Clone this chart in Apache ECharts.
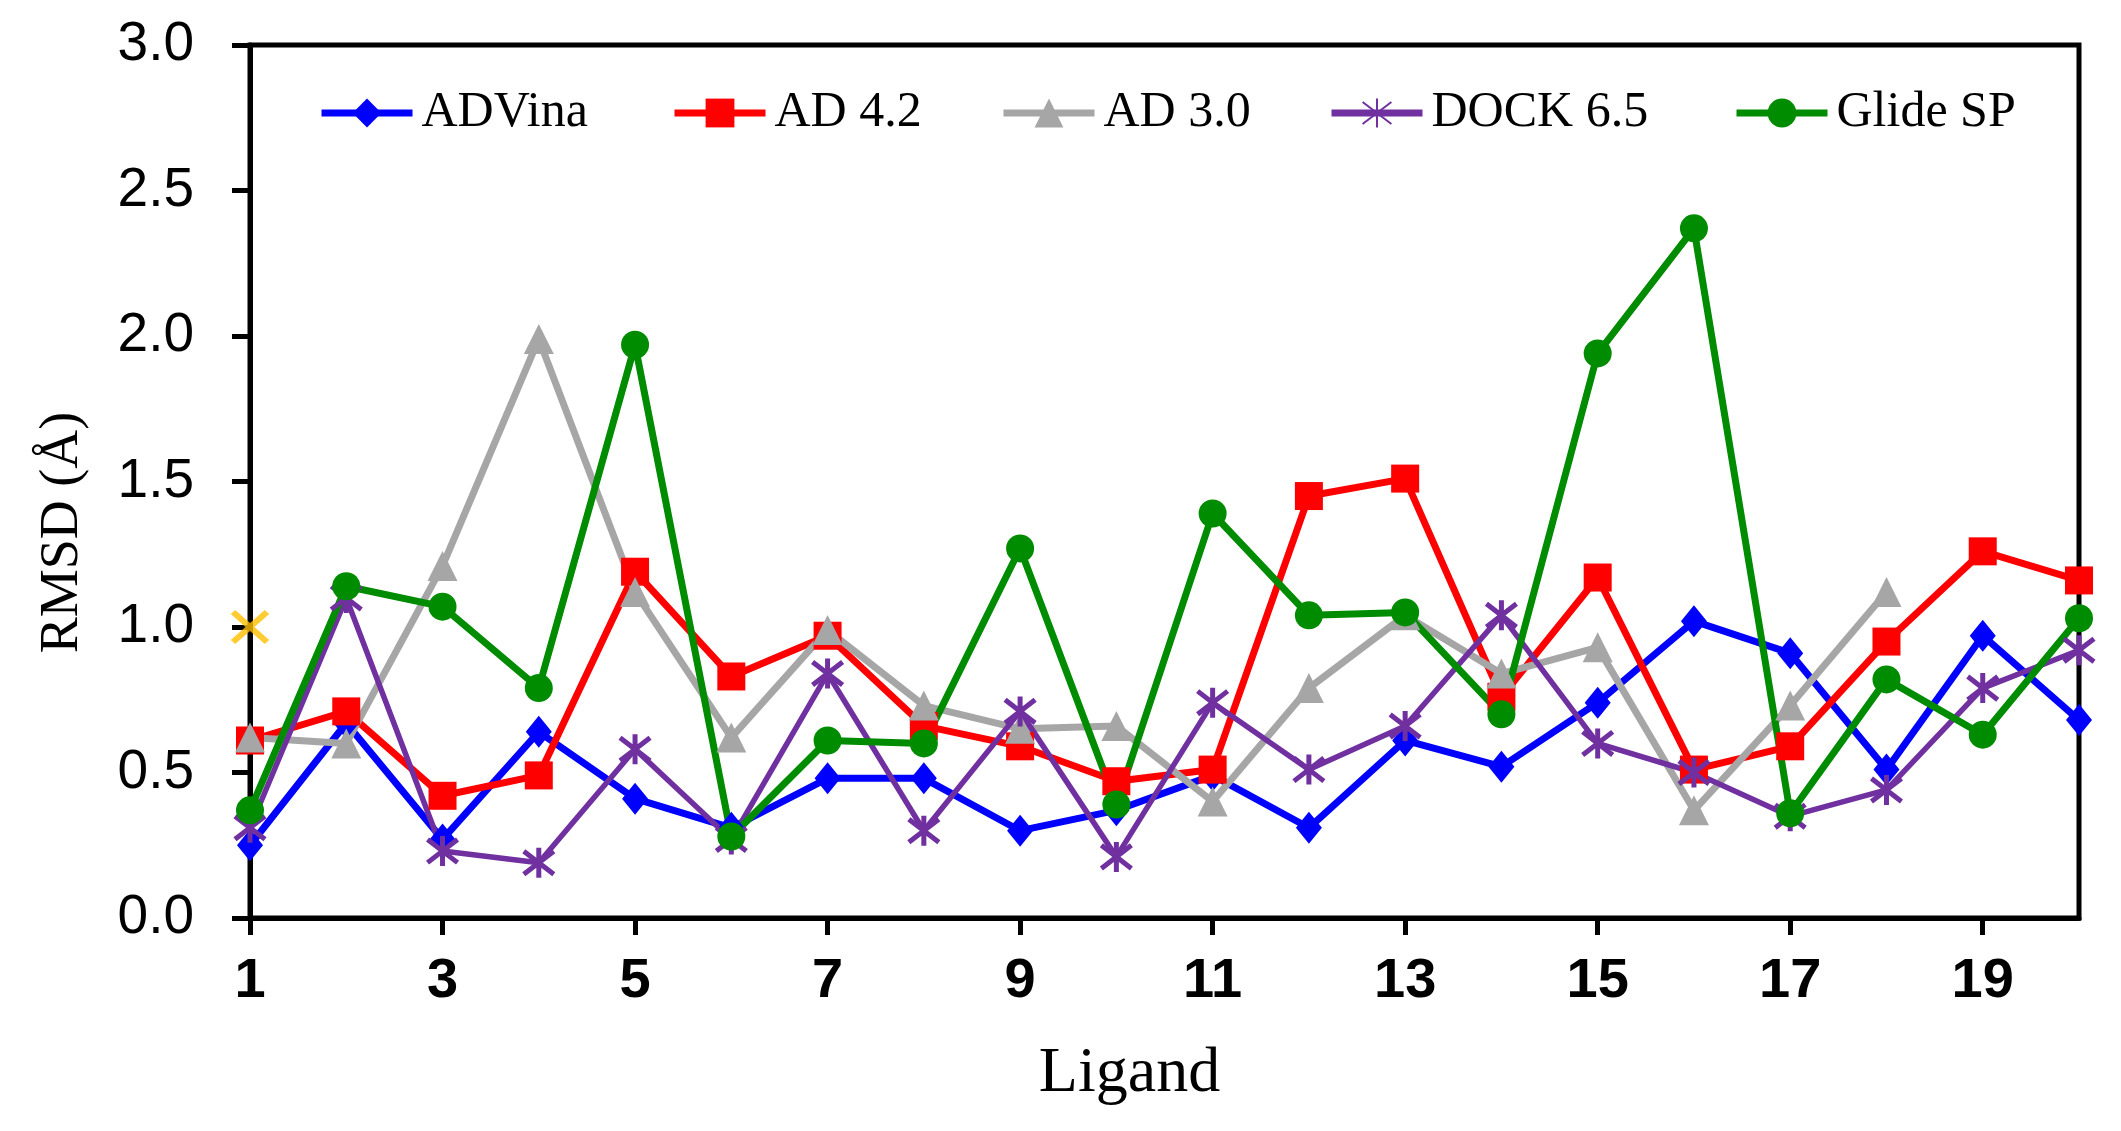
<!DOCTYPE html>
<html>
<head>
<meta charset="utf-8">
<script src="https://cdn.jsdelivr.net/npm/echarts@6/dist/echarts.min.js"></script>
<style>
html,body{margin:0;padding:0;background:#fff;}
#chart{width:2121px;height:1131px;}
</style>
</head>
<body>
<div id="chart"></div>
<script>
// ---- data ----
var ligands = ['1','2','3','4','5','6','7','8','9','10','11','12','13','14','15','16','17','18','19','20'];
var adVina  = [0.25,0.67,0.27,0.64,0.41,0.31,0.48,0.48,0.30,0.37,0.49,0.31,0.61,0.52,0.74,1.02,0.91,0.51,0.97,0.68];
var ad42    = [0.61,0.71,0.42,0.49,1.19,0.83,0.97,0.66,0.59,0.47,0.51,1.45,1.51,0.76,1.17,0.51,0.59,0.95,1.26,1.16];
var ad30    = [0.62,0.60,1.21,1.99,1.12,0.62,0.99,0.73,0.65,0.66,0.40,0.79,1.04,0.84,0.93,0.37,0.73,1.12,null,null];
var dock65  = [0.31,1.10,0.23,0.19,0.58,0.27,0.84,0.30,0.71,0.21,0.74,0.51,0.66,1.04,0.60,0.50,0.35,0.44,0.79,0.92];
var glideSP = [0.37,1.14,1.07,0.79,1.97,0.28,0.61,0.60,1.27,0.39,1.39,1.04,1.05,0.70,1.94,2.37,0.36,0.82,0.63,1.03];
var refMarkerLigand = '1';
var refMarkerValue = 1.0;
var seriesNames = ['ADVina','AD 4.2','AD 3.0','DOCK 6.5','Glide SP'];

// ---- styles ----
var SERIF = '"Liberation Serif","Times New Roman",serif';
var SANS = '"Liberation Sans",Arial,sans-serif';
var starPath = 'path://M0,0 L10,10 M10,0 L0,10 M5,-1.5 L5,11.5';
var crossPath = 'path://M0,0 L10,10 M10,0 L0,10';

function lineSeries(name, data, color, symbol, size, lw, extraItem) {
  var item = {color: color, borderWidth: 0};
  if (extraItem) { for (var k in extraItem) item[k] = extraItem[k]; }
  return {
    name: name, type: 'line', data: data,
    symbol: symbol, symbolSize: size,
    lineStyle: {color: color, width: lw},
    itemStyle: item,
    emphasis: {disabled: true},
    connectNulls: false,
    z: 2
  };
}

var legendLefts = [318, 671, 1000, 1328, 1733];
var legends = seriesNames.map(function (n, i) {
  return {
    data: [n], left: legendLefts[i], top: 88, padding: 0,
    itemWidth: 91, itemHeight: 36, itemGap: 0,
    lineStyle: {width: 7},
    textStyle: {fontFamily: SERIF, fontSize: 50, color: '#000', padding: [0,0,0,4]},
    selectedMode: false
  };
});

var chart = echarts.init(document.getElementById('chart'), null, {renderer: 'canvas'});
chart.setOption({
  animation: false,
  backgroundColor: '#fff',
  legend: legends,
  grid: {left: 250, right: 42, top: 45, bottom: 213, show: true, borderColor: '#000', borderWidth: 5, containLabel: false},
  xAxis: {
    type: 'category', data: ligands, boundaryGap: false,
    axisLine: {lineStyle: {color: '#000', width: 5}},
    axisTick: {show: true, interval: 1, length: 17, lineStyle: {color: '#000', width: 5}},
    axisLabel: {interval: 1, margin: 36, fontFamily: SANS, fontWeight: 'bold', fontSize: 56, color: '#000'},
    splitLine: {show: false},
    name: 'Ligand', nameLocation: 'middle', nameGap: 124,
    nameTextStyle: {fontFamily: SERIF, fontSize: 64, color: '#000', padding: [0,70,0,0]}
  },
  yAxis: {
    type: 'value', min: 0, max: 3, interval: 0.5,
    axisLine: {show: true, lineStyle: {color: '#000', width: 5}},
    axisTick: {show: true, length: 18, lineStyle: {color: '#000', width: 5}},
    axisLabel: {margin: 56, fontFamily: SANS, fontSize: 55, color: '#000', formatter: function (v) { return v.toFixed(1); }},
    splitLine: {show: false},
    name: 'RMSD (Å)', nameLocation: 'middle', nameGap: 160,
    nameTextStyle: {fontFamily: SERIF, fontSize: 54, color: '#000', padding: [0,102,0,0]}
  },
  series: [
    lineSeries('ADVina', adVina, '#0000FF', 'diamond', [26, 32], 7),
    lineSeries('AD 4.2', ad42, '#FF0000', 'rect', 28, 7),
    lineSeries('AD 3.0', ad30, '#A6A6A6', 'triangle', 30, 7),
    lineSeries('DOCK 6.5', dock65, '#7030A0', starPath, 30, 5.5, {borderColor: '#7030A0', borderWidth: 5}),
    lineSeries('Glide SP', glideSP, '#008C00', 'circle', 28, 7),
    {
      name: 'ref', type: 'scatter', data: [[refMarkerLigand, refMarkerValue]],
      symbol: crossPath, symbolSize: [34, 30],
      itemStyle: {color: '#FFC000', borderColor: '#FFC000', borderWidth: 6},
      z: 5
    }
  ]
});
</script>
</body>
</html>
